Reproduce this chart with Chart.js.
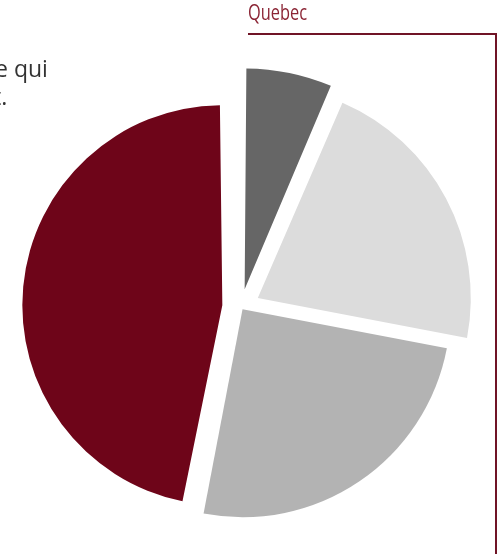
<!DOCTYPE html>
<html>
<head>
<meta charset="utf-8">
<script src="https://cdn.jsdelivr.net/npm/chart.js@4.4.0/dist/chart.umd.min.js"></script>
<style>
  html, body { margin: 0; padding: 0; background: #fff; }
  body { position: relative; width: 502px; height: 554px; overflow: hidden; font-family: "Open Sans", sans-serif; }
  #canvas1 { position: absolute; left: 0; top: 0; }
  .intro { position: absolute; font-size: 23px; line-height: 28px; color: #333; white-space: nowrap; }
  .region { position: absolute; left: 248px; top: 2px; font-size: 21px; line-height: 21px; color: #8b2535;
            transform: scaleX(0.78); transform-origin: 0 0; white-space: nowrap; }
  .bracket { position: absolute; left: 248px; top: 33px; width: 247px; height: 540px; border-top: 2px solid #701426; border-right: 2px solid #701426; }
</style>
</head>
<body>
<canvas id="canvas1" width="502" height="554"></canvas>
<div class="intro" style="left:-5px; top:54px;">e qui</div>
<div class="intro" style="left:-7px; top:82px;">t.</div>
<div class="region">Quebec</div>
<div class="bracket"></div>
<script>
var labels = ['Catégorie 1', 'Catégorie 2', 'Catégorie 3', 'Catégorie 4'];
var shares = [6.5, 21.5, 25, 47];
var colors = ['#666666', '#dcdcdc', '#b3b3b3', '#6e0519'];

// each slice is pulled out by its own amount and has its own outer radius
var sliceRadius = {
    id: 'sliceRadius',
    afterDatasetsUpdate: function(chart, args, opts) {
        var meta = chart.getDatasetMeta(0);
        meta.data.forEach(function(arc, i) {
            // the arc element grows small slices by part of their offset; take that back out
            var fix = 1 - Math.sin(Math.min(Math.PI, arc.circumference));
            var grow = ((arc.options.offset || 0) / 4) * fix;
            arc.outerRadius = opts.radii[i] - grow;
        });
    }
};

var config1 = {
    type: 'pie',
    data: {
        labels: labels,
        datasets: [{
            data: shares,
            backgroundColor: colors,
            borderWidth: 0,
            offset: [72, 76, 11, 75]
        }]
    },
    options: {
        responsive: false,
        animation: false,
        radius: 200,
        layout: {
            padding: { left: 0, right: 20, top: 60, bottom: 0 }
        },
        plugins: {
            legend: { display: false },
            tooltip: { enabled: false },
            sliceRadius: { radii: [221, 213, 208, 200] }
        }
    },
    plugins: [sliceRadius]
};

function loadPieChart() {
    var ctx = document.getElementById('canvas1').getContext('2d');
    window.myPie = new Chart(ctx, config1);
}
loadPieChart();
</script>
</body>
</html>
